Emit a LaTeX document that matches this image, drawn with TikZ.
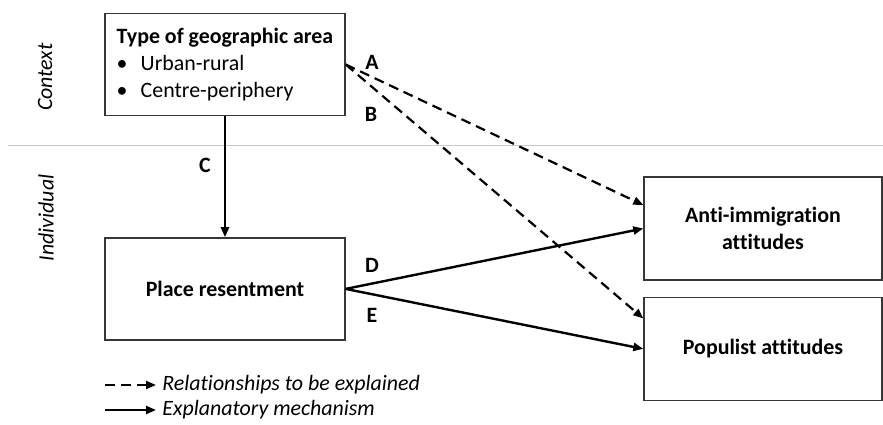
\documentclass[tikz,border=0pt,11pt]{standalone}
\usepackage{fontspec}
\setmainfont{Carlito}[Ligatures={TeX,NoCommon}]
\usepackage{tikz}
\usetikzlibrary{arrows.meta,positioning}
\definecolor{rulecol}{RGB}{200,200,200}
\definecolor{boxline}{RGB}{55,55,55}
\tikzset{
  box/.style     ={rectangle, draw=boxline, line width=0.7pt, align=center,
                   minimum height=51pt, minimum width=120pt, font=\bfseries},
  areabox/.style ={rectangle, draw=boxline, line width=0.7pt, align=left,
                   minimum width=120pt, minimum height=51pt},
  expl/.style    ={-{Triangle[length=5pt,width=4pt]}, dash pattern=on 5pt off 3pt,
                   line width=1.1pt},
  mech/.style    ={-{Triangle[length=5pt,width=4pt]}, line width=1.2pt},
  lbl/.style     ={font=\bfseries, inner sep=1pt},
  level/.style   ={font=\itshape, rotate=90},
  key/.style     ={font=\itshape, anchor=west, inner xsep=3pt, inner ysep=0pt},
}
\newcommand{\bulletitem}[1]{\makebox[12pt][l]{\textbullet}#1}

\begin{document}
\begin{tikzpicture}[x=0.5pt, y=-0.5pt]
    \useasboundingbox (0,0) rectangle (883,424);
    % context / individual split
    \draw[rulecol, line width=0.5pt] (8,145) -- (883,145);
    \node[level] (ctx) at (45,77) {Context};
    \node[level] (ind) at (46,218) {Individual};
    % boxes
    \node[areabox] (geo) at (225,64.5) {\textbf{Type of geographic area}\\
        \bulletitem{Urban-rural}\\ \bulletitem{Centre-periphery}};
    \node[box, below=60.5pt of geo] (res) {Place resentment};
    \node[box, minimum width=119pt, minimum height=51.5pt] (anti) at (763,228.5)
        {Anti-immigration\\ attitudes};
    \node[box, minimum width=119pt, minimum height=51.5pt, below=8pt of anti] (pop)
        {Populist attitudes};
    % connectors
    \draw[expl] (geo.east) -- ([yshift=11.75pt]anti.west);
    \draw[expl] (geo.east) -- ([yshift=15.25pt]pop.west);
    \draw[mech] (geo) -- (res);
    \draw[mech] (res.east) -- (anti.west);
    \draw[mech] (res.east) -- (pop.west);
    \node[lbl] (la) at (372,62) {A};
    \node[lbl] (lb) at (371,114) {B};
    \node[lbl] (lc) at (205,165) {C};
    \node[lbl] (ld) at (372,265) {D};
    \node[lbl] (le) at (372,315) {E};
    % key
    \coordinate (k1) at (105,385);
    \node[key] (keyexpl) at (156,385) {Relationships to be explained};
    \draw[expl] (k1) -- (keyexpl.west);
    \coordinate (k2) at (105,410);
    \node[key] (keymech) at (156,410) {Explanatory mechanism};
    \draw[mech] (k2) -- (keymech.west);
\end{tikzpicture}
\end{document}
